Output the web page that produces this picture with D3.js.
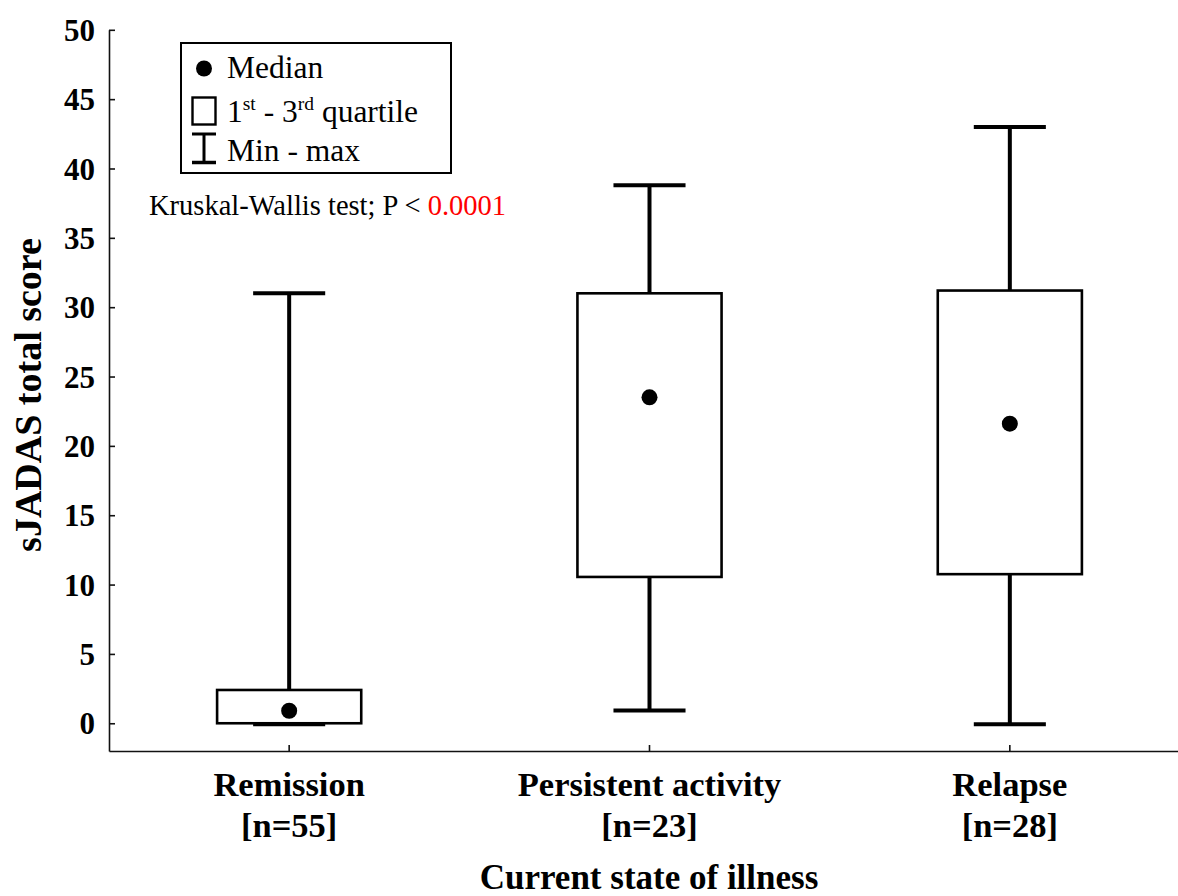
<!DOCTYPE html>
<html>
<head>
<meta charset="utf-8">
<script src="https://cdn.jsdelivr.net/npm/d3@7"></script>
<style>
  html, body { margin: 0; padding: 0; background: #fff; }
  svg { display: block; }
  text { font-family: "Liberation Serif", "Times New Roman", Times, serif; fill: #000; }
</style>
</head>
<body>
<svg id="chart" width="1178" height="896"></svg>
<script>
// Groups along the x axis and their sample sizes
const categories = ["Remission", "Persistent activity", "Relapse"];
const sampleLabels = ["[n=55]", "[n=23]", "[n=28]"];

// Five-number summaries of sJADAS total score per group
const minValues    = [0, 1, 0];
const q1Values     = [0, 10.55, 10.75];
const medianValues = [0.9, 23.5, 21.6];
const q3Values     = [2.4, 31.0, 31.2];
const maxValues    = [31, 38.8, 43];

// Y-axis tick labels
const yTicks = [0, 5, 10, 15, 20, 25, 30, 35, 40, 45, 50];

const svg = d3.select("#chart");

const x = d3.scaleBand().domain(categories).range([109, 1190]).padding(0);
const y = d3.scaleLinear().domain([-2, 50]).range([751, 29.8]);

const rows = categories.map((c, i) => ({
  cat: c, n: sampleLabels[i],
  min: minValues[i], q1: q1Values[i], med: medianValues[i], q3: q3Values[i], max: maxValues[i]
}));

// Axes
const yAxis = d3.axisLeft(y).tickValues(yTicks).tickSizeInner(-6).tickSizeOuter(0).tickPadding(14);
const gy = svg.append("g").attr("transform", "translate(109,0)").call(yAxis);
gy.select(".domain").attr("stroke", "#111").attr("stroke-width", 1.6);
gy.selectAll(".tick line").attr("stroke", "#111").attr("stroke-width", 1.6);
gy.selectAll(".tick text")
  .attr("font-family", "Liberation Serif, Times New Roman, serif")
  .attr("font-size", 31).attr("font-weight", "bold").attr("fill", "#000")
  .attr("dy", "0.34em");

const xAxis = d3.axisBottom(x).tickSizeInner(-6).tickSizeOuter(0).tickFormat("");
const gx = svg.append("g").attr("transform", "translate(0,751)").call(xAxis);
gx.select(".domain").attr("stroke", "#111").attr("stroke-width", 1.6);
gx.selectAll(".tick line").attr("stroke", "#111").attr("stroke-width", 1.6);

// Category labels (two lines)
const cx = d => x(d) + x.bandwidth() / 2;
const catLab = svg.append("g");
rows.forEach(r => {
  const t = catLab.append("text")
    .attr("text-anchor", "middle").attr("font-size", 34.5).attr("font-weight", "bold");
  t.append("tspan").attr("x", cx(r.cat)).attr("y", 796).text(r.cat);
  t.append("tspan").attr("x", cx(r.cat)).attr("y", 837).text(r.n);
});

// Axis titles
svg.append("text")
  .attr("x", 649).attr("y", 889)
  .attr("text-anchor", "middle").attr("font-size", 35).attr("font-weight", "bold")
  .text("Current state of illness");

svg.append("text")
  .attr("transform", "translate(41,395) rotate(-90)")
  .attr("text-anchor", "middle").attr("font-size", 38).attr("font-weight", "bold")
  .text("sJADAS total score");

// Box plots
const boxW = x.bandwidth() * 0.4;
const capW = x.bandwidth() * 0.2;
const g = svg.append("g");

// whiskers
g.selectAll(".whisker-hi").data(rows).join("line")
  .attr("x1", d => cx(d.cat)).attr("x2", d => cx(d.cat))
  .attr("y1", d => y(d.max)).attr("y2", d => y(d.q3))
  .attr("stroke", "#000").attr("stroke-width", 4);
g.selectAll(".whisker-lo").data(rows).join("line")
  .attr("x1", d => cx(d.cat)).attr("x2", d => cx(d.cat))
  .attr("y1", d => y(d.q1)).attr("y2", d => y(d.min))
  .attr("stroke", "#000").attr("stroke-width", 4);
// caps
g.selectAll(".cap-hi").data(rows).join("line")
  .attr("x1", d => cx(d.cat) - capW / 2).attr("x2", d => cx(d.cat) + capW / 2)
  .attr("y1", d => y(d.max)).attr("y2", d => y(d.max))
  .attr("stroke", "#000").attr("stroke-width", 4);
g.selectAll(".cap-lo").data(rows).join("line")
  .attr("x1", d => cx(d.cat) - capW / 2).attr("x2", d => cx(d.cat) + capW / 2)
  .attr("y1", d => y(d.min) + 1).attr("y2", d => y(d.min) + 1)
  .attr("stroke", "#000").attr("stroke-width", 4);
// boxes
g.selectAll(".box").data(rows).join("rect")
  .attr("x", d => cx(d.cat) - boxW / 2).attr("width", boxW)
  .attr("y", d => y(d.q3)).attr("height", d => y(d.q1) - y(d.q3))
  .attr("fill", "#fff").attr("stroke", "#000").attr("stroke-width", 2.6);
// medians
g.selectAll(".median").data(rows).join("circle")
  .attr("cx", d => cx(d.cat)).attr("cy", d => y(d.med)).attr("r", 8)
  .attr("fill", "#000");

// Legend
const lg = svg.append("g");
lg.append("rect").attr("x", 181).attr("y", 43).attr("width", 270).attr("height", 130)
  .attr("fill", "#fff").attr("stroke", "#000").attr("stroke-width", 2);
lg.append("circle").attr("cx", 204).attr("cy", 68.5).attr("r", 8).attr("fill", "#000");
lg.append("text").attr("x", 227).attr("y", 78).attr("font-size", 31.5).text("Median");
lg.append("rect").attr("x", 192.5).attr("y", 97.5).attr("width", 23).attr("height", 27)
  .attr("fill", "#fff").attr("stroke", "#000").attr("stroke-width", 2.4);
const qt = lg.append("text").attr("x", 227).attr("y", 122).attr("font-size", 31.5);
qt.append("tspan").text("1");
qt.append("tspan").attr("font-size", 19.5).attr("dy", -12).text("st");
qt.append("tspan").attr("dy", 12).text(" - 3");
qt.append("tspan").attr("font-size", 19.5).attr("dy", -12).text("rd");
qt.append("tspan").attr("dy", 12).text(" quartile");
lg.append("line").attr("x1", 204).attr("x2", 204).attr("y1", 133).attr("y2", 163)
  .attr("stroke", "#000").attr("stroke-width", 3);
lg.append("line").attr("x1", 192).attr("x2", 216).attr("y1", 134).attr("y2", 134)
  .attr("stroke", "#000").attr("stroke-width", 3);
lg.append("line").attr("x1", 192).attr("x2", 216).attr("y1", 162.5).attr("y2", 162.5)
  .attr("stroke", "#000").attr("stroke-width", 3.5);
lg.append("text").attr("x", 227).attr("y", 161).attr("font-size", 31.5).text("Min - max");

// Test annotation
const kw = svg.append("text").attr("x", 149).attr("y", 215).attr("font-size", 28.5);
kw.append("tspan").text("Kruskal-Wallis test; P < ");
kw.append("tspan").attr("fill", "#ff0000").text("0.0001");
</script>
</body>
</html>
